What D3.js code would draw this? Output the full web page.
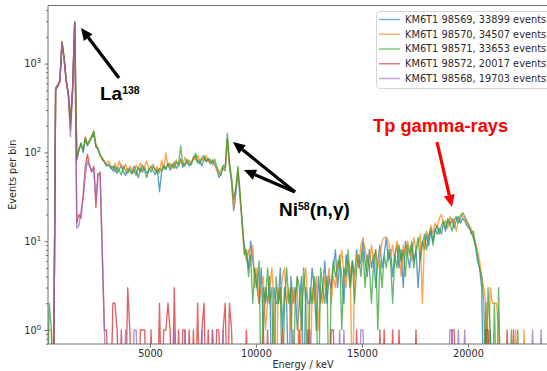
<!DOCTYPE html>
<html>
<head>
<meta charset="utf-8">
<script src="https://cdn.jsdelivr.net/npm/d3@7"></script>
<style>
  html, body { margin: 0; padding: 0; background: #fff; }
  svg { display: block; }
</style>
</head>
<body>
<svg id="chart" width="547" height="371"></svg>
<script>
// Energy spectra, 100 keV bins starting at 0 keV (bin i covers i*100 .. i*100+100)
const binWidth = 100;
const binCount = 240;

const seriesNames = [
  "KM6T1 98569, 33899 events",
  "KM6T1 98570, 34507 events",
  "KM6T1 98571, 33653 events",
  "KM6T1 98572, 20017 events",
  "KM6T1 98568, 19703 events"
];
const seriesColors = ["#1f77b4", "#ff7f0e", "#2ca02c", "#d62728", "#9467bd"];

// counts per bin, ten bins per row
const run98569 = [
  0,0,0,0,0,520,560,640,1750,1150,
  640,460,220,520,2900,82,105,128,100,140,
  118,132,146,160,115,108,95,82,80,70,
  74,68,62,70,58,64,72,60,55,66,
  62,57,70,63,52,66,60,68,58,63,
  70,62,56,65,36,60,72,66,74,63,
  70,78,66,72,85,68,75,80,70,78,
  84,90,76,82,70,88,80,85,74,82,
  72,66,52,58,66,62,140,72,45,22,
  34,60,30,16,9,7,5,10,6,4,
  3,2,5,1,3,2,4,0,3,2,
  2,5,1,3,2,0,4,2,3,1,
  2,4,0,3,2,2,5,3,1,4,
  2,3,6,2,4,3,5,8,3,6,
  4,2,7,5,3,6,4,8,5,6,
  10,6,4,8,5,7,3,6,9,5,
  7,11,6,8,4,7,9,5,8,3,
  10,7,5,9,6,8,3,7,10,8,
  12,9,13,10,14,12,14,12,16,13,
  17,15,18,14,17,19,16,18,17,15,
  14,13,11,9,6,5,3,0,2,0,
  1,0,0,0,0,0,0,0,0,0,
  0,0,0,0,0,0,0,0,0,0,
  0,0,0,0,0,0,0,0,0,0
];

const run98570 = [
  0,1,1,1,0,540,580,650,1780,1180,
  660,470,230,540,2950,88,112,120,108,150,
  125,130,155,172,125,112,90,88,76,75,
  80,72,66,75,62,80,68,64,74,60,
  70,66,58,72,64,76,62,70,80,64,
  68,74,62,70,58,82,64,99,70,76,
  66,74,82,70,80,72,88,74,82,76,
  90,82,94,78,86,80,92,78,84,72,
  78,62,58,64,70,64,145,66,50,24,
  38,65,35,14,8,6,8,6,9,3,
  5,2,3,4,1,2,3,5,2,0,
  3,2,4,5,2,3,1,3,2,4,
  0,2,3,5,2,0,3,2,4,1,
  3,2,4,3,5,2,4,3,6,5,
  8,4,3,6,5,0,4,7,5,9,
  11,8,6,5,9,6,8,5,7,10,
  11,11,10,7,9,6,10,8,4,9,
  7,10,8,6,11,8,9,12,2,10,
  13,11,15,12,16,14,18,20,15,17,
  14,19,16,18,13,17,20,19,18,16,
  15,14,12,10,8,6,4,3,2,0,
  3,2,2,2,1,0,0,0,0,0,
  0,0,1,0,0,0,1,0,0,0,
  0,0,0,0,0,0,0,0,0,0
];

const run98571 = [
  0,0,2,1,0,530,570,630,1760,1160,
  650,450,225,530,2920,84,108,126,104,146,
  122,138,150,175,118,110,92,85,78,72,
  71,66,70,60,68,62,56,70,62,58,
  66,60,64,55,68,60,72,62,52,66,
  60,70,64,58,66,62,70,64,76,68,
  74,66,78,72,118,74,70,84,76,72,
  86,98,80,74,88,92,78,86,80,76,
  84,70,60,55,72,68,165,78,52,30,
  40,70,36,17,7,8,4,7,2,5,
  3,6,0,3,2,5,2,3,0,4,
  2,3,0,2,5,2,3,0,2,4,
  3,1,5,2,0,3,2,4,2,0,
  5,3,2,4,0,3,6,4,5,7,
  1,5,4,8,3,6,2,5,7,4,
  8,3,7,5,2,6,8,1,6,3,
  7,5,8,6,2,7,5,9,6,8,
  4,9,7,10,5,8,11,6,9,12,
  8,11,14,9,13,15,12,15,17,14,
  18,16,13,17,19,16,18,21,19,17,
  15,12,13,9,7,5,4,2,0,3,
  1,0,2,0,3,0,0,0,0,0,
  1,0,0,1,0,0,0,0,0,0,
  0,0,0,0,0,0,0,0,0,0
];

const run98572 = [
  0,0,0,0,0,500,550,620,1700,1100,
  620,440,180,480,2850,16,20,18,34,70,
  95,72,60,70,24,55,60,8,1,1,
  0,0,2,2,1,0,1,0,0,3,
  1,0,0,0,0,1,1,1,0,0,
  1,0,0,0,2,0,1,1,2,1,
  0,3,0,1,0,1,1,0,1,0,
  1,0,2,0,1,2,0,1,0,1,
  0,1,1,0,1,2,0,2,1,0,
  0,0,0,0,0,1,0,0,0,0,
  0,0,0,1,0,1,0,0,0,0,
  0,0,1,0,0,0,0,0,0,0,
  1,0,0,0,1,0,0,0,0,0,
  0,0,0,0,0,1,1,0,0,0,
  0,0,0,0,0,0,0,1,0,0,
  0,0,0,0,0,0,0,0,1,0,
  1,0,0,0,1,0,0,1,0,0,
  0,0,0,0,0,1,0,0,0,0,
  0,0,0,0,0,0,0,0,0,0,
  0,0,1,1,0,0,0,0,0,0,
  0,0,0,0,0,0,0,0,1,1,
  0,0,0,0,0,0,0,0,1,0,
  0,1,0,0,0,0,0,0,0,0,
  0,0,0,0,0,0,0,0,0,0
];

const run98568 = [
  0,0,0,0,0,510,560,630,1720,1120,
  640,450,150,500,2960,14,15,22,30,55,
  80,70,62,66,30,58,55,7,1,0,
  0,0,0,0,0,0,0,0,1,0,
  0,0,1,1,0,0,0,0,0,0,
  0,0,0,0,0,0,0,0,0,0,
  0,1,0,0,0,0,1,0,0,0,
  0,0,0,0,1,0,0,0,0,1,
  0,0,0,0,1,0,0,0,0,0,
  0,0,0,0,0,0,0,0,0,0,
  0,0,0,0,0,0,0,0,0,0,
  0,0,0,0,0,0,0,1,0,0,
  0,0,0,0,0,1,0,0,0,0,
  0,0,0,0,0,0,0,0,0,1,
  0,1,0,0,0,0,0,0,0,1,
  1,0,0,0,0,0,0,0,0,0,
  0,0,0,0,0,0,0,0,0,0,
  0,0,0,0,0,0,0,0,0,0,
  0,0,0,0,0,0,0,0,0,0,
  0,1,1,0,0,1,0,0,1,0,
  0,0,0,0,0,0,0,0,0,0,
  0,0,0,0,0,0,0,0,0,0,
  0,0,0,0,0,0,0,0,0,0,
  1,0,0,0,1,0,0,0,0,0
];

const seriesValues = [run98569, run98570, run98571, run98572, run98568];

const xTicks = [5000, 10000, 15000, 20000];
const yDecades = [0, 1, 2, 3];

// ---- layout ----
const svg = d3.select("#chart");
const W = 547, H = 371;
const plot = { left: 48, top: 5.5, right: 558, bottom: 344 };

svg.append("rect").attr("width", W).attr("height", H).attr("fill", "#fff");

const x = d3.scaleLinear().domain([190, 24250]).range([plot.left, plot.right]);
const y = d3.scaleLog().domain([0.695, 4510]).range([plot.bottom, plot.top]);

const binCenters = d3.range(binCount).map(i => i * binWidth + binWidth / 2);

svg.append("clipPath").attr("id", "plotclip")
  .append("rect")
  .attr("x", plot.left).attr("y", plot.top)
  .attr("width", plot.right - plot.left).attr("height", plot.bottom - plot.top);

// empty bins fall off the bottom of the log axis
const line = d3.line()
  .x((d, i) => x(binCenters[i]))
  .y(d => d > 0 ? y(d) : plot.bottom + 60);

const lines = svg.append("g").attr("clip-path", "url(#plotclip)");
seriesValues.forEach((vals, k) => {
  lines.append("path")
    .datum(vals)
    .attr("d", line)
    .attr("fill", "none")
    .attr("stroke", seriesColors[k])
    .attr("stroke-opacity", 0.72)
    .attr("stroke-width", 1.35)
    .attr("stroke-linejoin", "round");
});

// ---- axes ----
const axisColor = "#6f6f6f";
const textColor = "#2a2a2a";
const tickFont = "DejaVu Sans";

const xAxis = svg.append("g")
  .attr("transform", `translate(0,${plot.bottom})`)
  .call(d3.axisBottom(x).tickValues(xTicks).tickSize(3.5).tickSizeOuter(0).tickPadding(3)
    .tickFormat(d3.format("d")));
xAxis.select(".domain").remove();
xAxis.selectAll(".tick line").attr("stroke", axisColor);
xAxis.selectAll(".tick text")
  .attr("font-family", tickFont).attr("font-size", 9.7).attr("fill", textColor);

// minor log ticks
const minorTicks = [];
for (let e = -1; e <= 3; e++) {
  for (let m = 2; m <= 9; m++) {
    const v = m * Math.pow(10, e);
    if (v >= y.domain()[0] && v <= y.domain()[1]) minorTicks.push(v);
  }
}
const yMinor = svg.append("g")
  .attr("transform", `translate(${plot.left},0)`)
  .call(d3.axisLeft(y).tickValues(minorTicks).tickSize(2).tickSizeOuter(0).tickFormat(""));
yMinor.select(".domain").remove();
yMinor.selectAll(".tick line").attr("stroke", axisColor);

const yMajor = svg.append("g")
  .attr("transform", `translate(${plot.left},0)`)
  .call(d3.axisLeft(y).tickValues(yDecades.map(e => Math.pow(10, e))).tickSize(3.5)
    .tickSizeOuter(0).tickFormat(""));
yMajor.select(".domain").remove();
yMajor.selectAll(".tick line").attr("stroke", axisColor);

const yLabels = svg.append("g");
yDecades.forEach(e => {
  const t = yLabels.append("text")
    .attr("x", plot.left - 7)
    .attr("y", y(Math.pow(10, e)) + 3.6)
    .attr("text-anchor", "end")
    .attr("font-family", tickFont)
    .attr("font-size", 9.7)
    .attr("fill", textColor);
  t.append("tspan").text("10");
  t.append("tspan").attr("font-size", 6.8).attr("dy", -4).text(String(e));
});

// spines
const spines = svg.append("g").attr("stroke", axisColor).attr("stroke-width", 1);
spines.append("line").attr("x1", plot.left).attr("x2", plot.left).attr("y1", plot.top).attr("y2", plot.bottom);
spines.append("line").attr("x1", plot.left).attr("x2", plot.right).attr("y1", plot.bottom).attr("y2", plot.bottom);
spines.append("line").attr("x1", plot.left).attr("x2", plot.right).attr("y1", plot.top).attr("y2", plot.top);

// axis titles
svg.append("text")
  .attr("x", (plot.left + plot.right) / 2)
  .attr("y", 368)
  .attr("text-anchor", "middle")
  .attr("font-family", tickFont).attr("font-size", 9.7).attr("fill", textColor)
  .text("Energy / keV");

svg.append("text")
  .attr("transform", `translate(16,${(plot.top + plot.bottom) / 2}) rotate(-90)`)
  .attr("text-anchor", "middle")
  .attr("font-family", tickFont).attr("font-size", 9.7).attr("fill", textColor)
  .text("Events per bin");

// ---- legend ----
const legend = svg.append("g");
legend.append("rect")
  .attr("x", 376.5).attr("y", 11.5).attr("width", 220).attr("height", 77)
  .attr("rx", 3).attr("fill", "#fff").attr("stroke", "#d4d4d4");
seriesNames.forEach((name, k) => {
  const ly = 19.5 + k * 14.75;
  legend.append("line")
    .attr("x1", 379).attr("x2", 400).attr("y1", ly).attr("y2", ly)
    .attr("stroke", seriesColors[k]).attr("stroke-opacity", 0.6).attr("stroke-width", 1.5);
  legend.append("text")
    .attr("x", 405).attr("y", ly + 3.4)
    .attr("font-family", tickFont).attr("font-size", 9.8).attr("fill", textColor)
    .text(name);
});

// ---- annotations ----
function arrow(x1, y1, x2, y2, color) {
  const ang = Math.atan2(y2 - y1, x2 - x1);
  const headLen = 12, headHalf = 5.5;
  const bx = x2 - headLen * Math.cos(ang), by = y2 - headLen * Math.sin(ang);
  svg.append("line")
    .attr("x1", x1).attr("y1", y1).attr("x2", bx).attr("y2", by)
    .attr("stroke", color).attr("stroke-width", 3.2);
  const px = -Math.sin(ang) * headHalf, py = Math.cos(ang) * headHalf;
  svg.append("polygon")
    .attr("points", `${x2},${y2} ${bx + px},${by + py} ${bx - px},${by - py}`)
    .attr("fill", color);
}

const annFont = "Liberation Sans";

const la = svg.append("text")
  .attr("x", 100).attr("y", 100)
  .attr("font-family", annFont).attr("font-weight", "bold").attr("font-size", 19).attr("fill", "#000");
la.append("tspan").text("La");
la.append("tspan").attr("font-size", 10.5).attr("dy", -6.5).text("138");
arrow(119, 78, 81, 28, "#000");

const ni = svg.append("text")
  .attr("x", 279).attr("y", 216)
  .attr("font-family", annFont).attr("font-weight", "bold").attr("font-size", 19).attr("fill", "#000");
ni.append("tspan").text("Ni");
ni.append("tspan").attr("font-size", 10.5).attr("dy", -6.5).text("58");
ni.append("tspan").attr("dy", 6.5).text("(n,γ)");
arrow(295, 192, 233, 142, "#000");
arrow(295, 192, 244, 170, "#000");

svg.append("text")
  .attr("x", 373).attr("y", 132)
  .attr("font-family", annFont).attr("font-weight", "bold").attr("font-size", 18.3).attr("fill", "#f00")
  .text("Tp gamma-rays");
arrow(437, 142, 452, 207, "#f00");
</script>
